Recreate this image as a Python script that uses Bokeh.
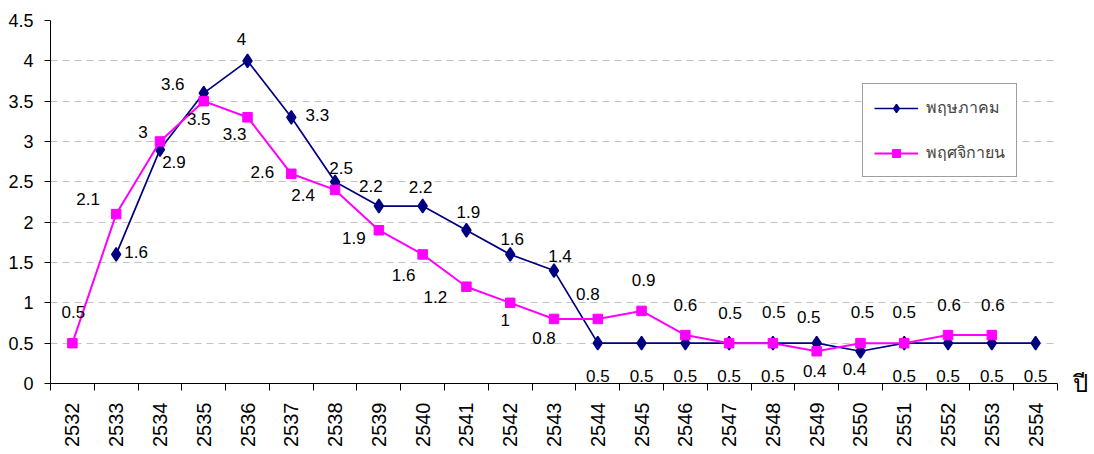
import math
from bokeh.plotting import figure
from bokeh.models import (ColumnDataSource, FixedTicker, Legend, LegendItem, LinearAxis,
                          NumeralTickFormatter)
from bokeh.embed import file_html
from bokeh.resources import INLINE
from bokeh.core.properties import value

# ---------------- data ----------------
years = ["2532", "2533", "2534", "2535", "2536", "2537", "2538", "2539", "2540",
         "2541", "2542", "2543", "2544", "2545", "2546", "2547", "2548", "2549",
         "2550", "2551", "2552", "2553", "2554"]
may_vals = [None, 1.6, 2.9, 3.6, 4, 3.3, 2.5, 2.2, 2.2, 1.9, 1.6, 1.4,
            0.5, 0.5, 0.5, 0.5, 0.5, 0.5, 0.4, 0.5, 0.5, 0.5, 0.5]
nov_vals = [0.5, 2.1, 3, 3.5, 3.3, 2.6, 2.4, 1.9, 1.6, 1.2, 1, 0.8,
            0.8, 0.9, 0.6, 0.5, 0.5, 0.4, 0.5, 0.5, 0.6, 0.6, None]
series_names = ["พฤษภาคม", "พฤศจิกายน"]
y_ticks = [0, 0.5, 1, 1.5, 2, 2.5, 3, 3.5, 4, 4.5]
x_title = "ปี"

# label offsets in screen px (style, not data)
may_dx = [0, 20, 14, -31, -6, 26, 6, -8, -2, 2, 2, 6, 0, 0, 0, 0, 0, -8, -6, 0, 0, 0, 0]
may_dy = [0, -2, 12, -9, -22, -2, -14, -20, -19, -18, -15, -15, 33, 33, 33, 33, 33, -26, 18, 33, 33, 33, 33]
nov_dx = [1, -28, -17, -5, -13, -29, -32, -25, -19, -31, -5, -10, -10, 2, 0, 1, 1, -2, 2, 0, 1, 1, 0]
nov_dy = [-31, -15, -10, 18, 17, -2, 5, 8, 21, 10, 17, 19, -25, -31, -30, -30, -31, 20, -31, -31, -30, -30, 0]

NAVY = "#000080"
MAGENTA = "#FF00FF"
FONT = "Liberation Sans"

idx = list(range(len(years)))


def nan(v):
    return float("nan") if v is None else v


def label_source(vals, dx, dy):
    xs, ys, ts, ox, oy = [], [], [], [], []
    for i, v in enumerate(vals):
        if v is None:
            continue
        xs.append(i); ys.append(v); ts.append(f"{v:g}")
        ox.append(dx[i]); oy.append(dy[i])
    return ColumnDataSource(dict(x=xs, y=ys, t=ts, dx=ox, dy=oy))


p = figure(width=1090, height=450, output_backend="svg", toolbar_location=None,
           x_range=(-0.5, len(years) - 0.5), y_range=(0, 4.5),
           min_border_left=50, min_border_right=27, min_border_top=20,
           min_border_bottom=67)
p.outline_line_color = None
p.background_fill_color = "white"

# grid
p.xgrid.visible = False
p.ygrid.ticker = FixedTicker(ticks=y_ticks)
p.ygrid.grid_line_color = "#c0c0c0"
p.ygrid.grid_line_dash = "7 5"
p.ygrid.grid_line_width = 1

# y axis
p.yaxis.ticker = FixedTicker(ticks=y_ticks)
p.yaxis.formatter = NumeralTickFormatter(format="0.[0]")
p.yaxis.major_tick_out = 6
p.yaxis.major_tick_in = 0
p.yaxis.minor_tick_out = 0
p.yaxis.minor_tick_in = 0
p.yaxis.major_label_standoff = 11
p.yaxis.major_label_text_font = FONT
p.yaxis.major_label_text_font_size = "18px"
p.yaxis.major_label_text_color = "black"
p.yaxis.axis_line_color = "black"
p.yaxis.major_tick_line_color = "black"

# x axis: labels at centres, ticks at boundaries (minor ticks)
p.xaxis.ticker = FixedTicker(ticks=idx, minor_ticks=[i - 0.5 for i in range(len(years) + 1)])
p.xaxis.major_label_overrides = {i: years[i] for i in idx}
p.xaxis.major_label_orientation = math.pi / 2
p.xaxis.major_tick_out = 0
p.xaxis.major_tick_in = 0
p.xaxis.minor_tick_out = 7
p.xaxis.minor_tick_in = 0
p.xaxis.minor_tick_line_color = "black"
p.xaxis.major_label_standoff = 12
p.xaxis.major_label_text_font = FONT
p.xaxis.major_label_text_font_size = "20px"
p.xaxis.major_label_text_color = "black"
p.xaxis.axis_line_color = "black"

# right-side "axis" only used to place the x title "ปี" next to the x axis end
title_axis = LinearAxis(ticker=FixedTicker(ticks=[0]), major_label_overrides={0: x_title},
                        axis_line_color=None, major_tick_line_color=None,
                        minor_tick_line_color=None, major_label_standoff=9,
                        major_label_text_font=FONT, major_label_text_font_size="24px",
                        major_label_text_color="black")
p.add_layout(title_axis, "right")

# series
src_may = ColumnDataSource(dict(x=idx, y=[nan(v) for v in may_vals]))
src_nov = ColumnDataSource(dict(x=idx, y=[nan(v) for v in nov_vals]))

l1 = p.line("x", "y", source=src_may, line_color=NAVY, line_width=1.7)
m1 = p.scatter("x", "y", source=src_may, marker="diamond", size=13.5,
               fill_color=NAVY, line_color=NAVY, line_width=1.5)
l2 = p.line("x", "y", source=src_nov, line_color=MAGENTA, line_width=2)
m2 = p.scatter("x", "y", source=src_nov, marker="square", size=9.5,
               fill_color=MAGENTA, line_color=MAGENTA)

for vals, dx, dy in ((may_vals, may_dx, may_dy), (nov_vals, nov_dx, nov_dy)):
    p.text("x", "y", text="t", x_offset="dx", y_offset="dy", source=label_source(vals, dx, dy),
           text_align="center", text_baseline="middle", text_font=value(FONT),
           text_font_size="17px", text_color="black")

legend = Legend(items=[LegendItem(label=series_names[0], renderers=[l1, m1]),
                       LegendItem(label=series_names[1], renderers=[l2, m2])],
                location=(812, 206), orientation="vertical",
                border_line_color="#404040", border_line_width=1,
                background_fill_color="white", background_fill_alpha=1,
                padding=11, spacing=20, glyph_width=44, glyph_height=20,
                label_height=20, label_standoff=8, margin=0,
                label_text_font=FONT, label_text_font_size="16px")
p.add_layout(legend)

open("out.html", "w").write(file_html(p, INLINE))
